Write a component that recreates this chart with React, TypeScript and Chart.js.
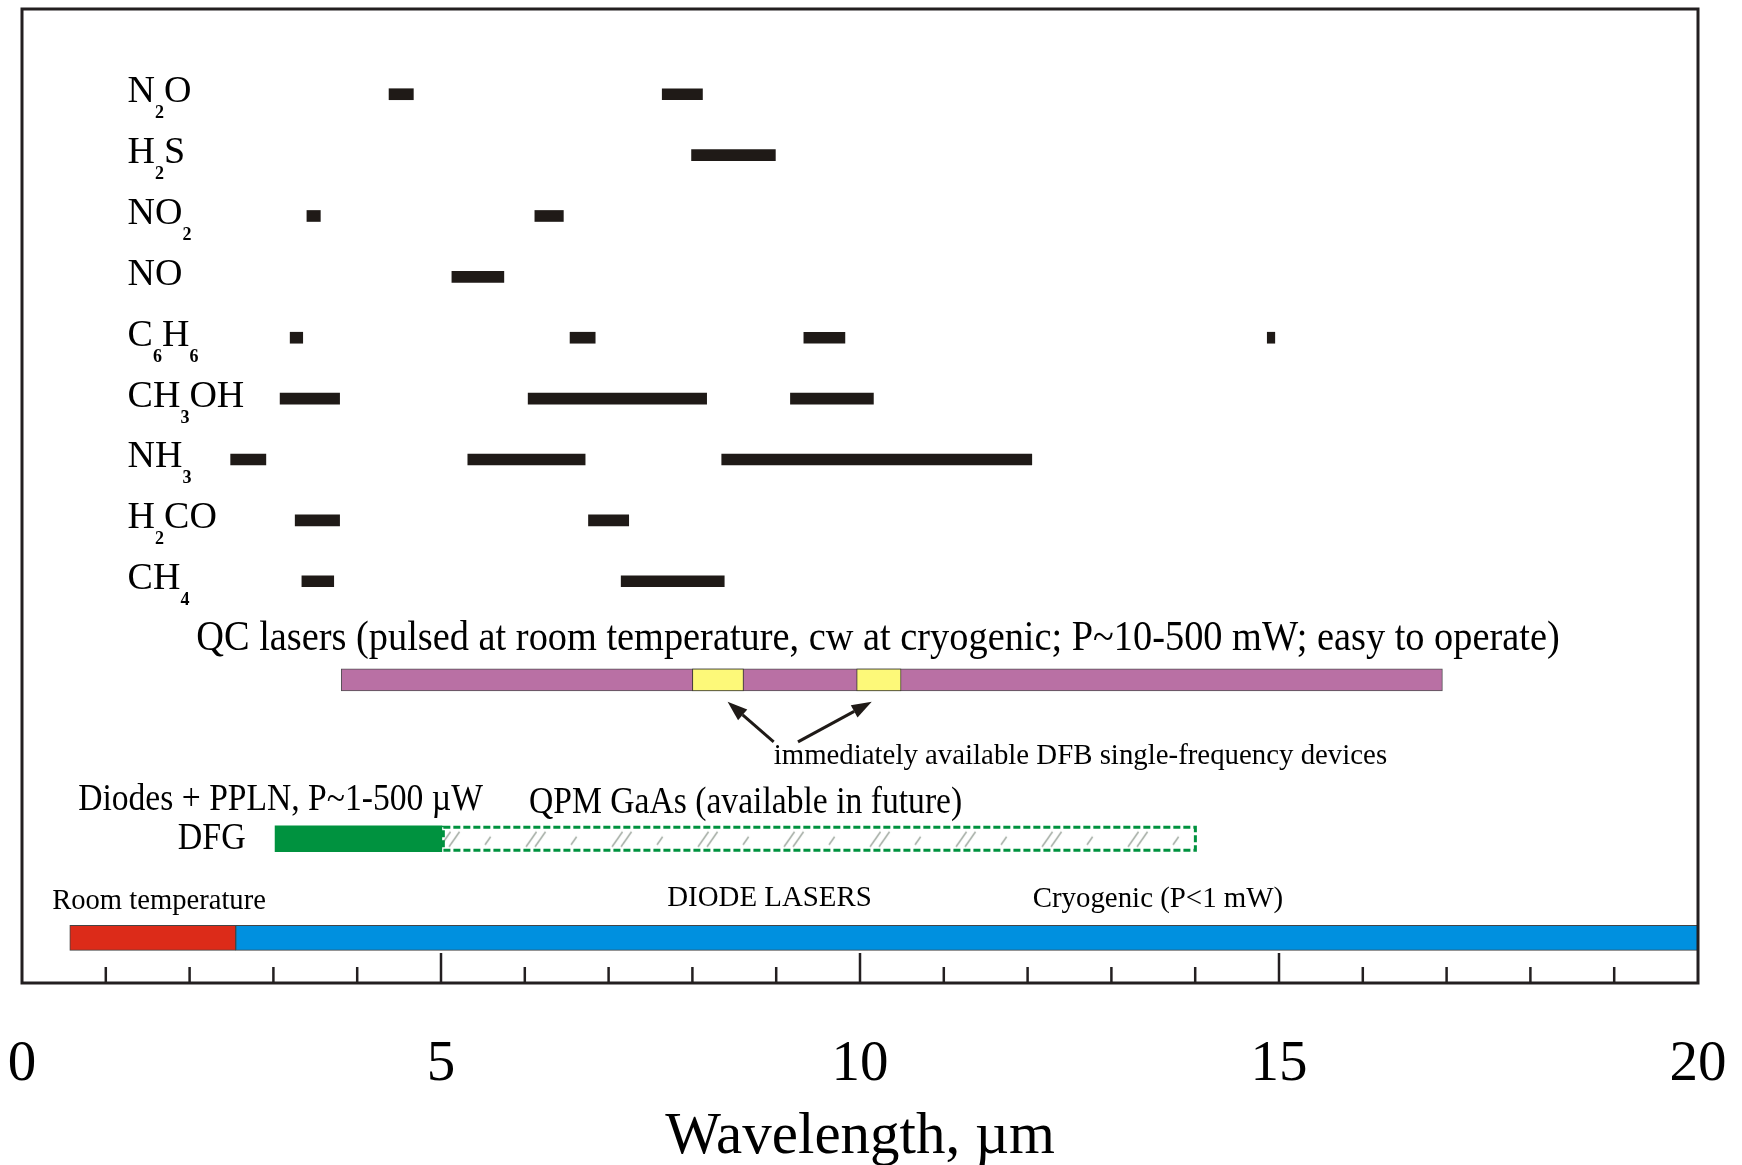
import { useEffect, useRef } from 'react';
import { Chart, registerables } from 'chart.js';

Chart.register(...registerables);

// ---------------- data (wavelength ranges in µm) ----------------
const molecules = ['N2O', 'H2S', 'NO2', 'NO', 'C6H6', 'CH3OH', 'NH3', 'H2CO', 'CH4'];

const n2oBands = [[4.38, 4.67], [7.64, 8.12]];
const h2sBands = [[7.99, 8.99]];
const no2Bands = [[3.40, 3.56], [6.12, 6.46]];
const noBands = [[5.13, 5.75]];
const c6h6Bands = [[3.20, 3.35], [6.54, 6.84], [9.33, 9.82], [14.86, 14.95]];
const ch3ohBands = [[3.08, 3.79], [6.04, 8.17], [9.17, 10.16]];
const nh3Bands = [[2.49, 2.91], [5.32, 6.72], [8.35, 12.05]];
const h2coBands = [[3.26, 3.79], [6.76, 7.24]];
const ch4Bands = [[3.34, 3.72], [7.15, 8.38]];
const moleculeBands = [n2oBands, h2sBands, no2Bands, noBands, c6h6Bands, ch3ohBands, nh3Bands, h2coBands, ch4Bands];

const qcLaserRange = [3.81, 16.95];
const dfbDeviceRanges = [[8.0, 8.61], [9.96, 10.49]];
const dfgPplnRange = [3.02, 5.01];
const qpmGaAsRange = [5.01, 14.02];
const roomTempRange = [0.57, 2.55];
const cryogenicRange = [2.55, 20];

const xMin = 0;
const xMax = 20;
const xLabelStep = 5;
const majorTickValues = [5, 10, 15];
const minorTickValues = [1, 2, 3, 4, 6, 7, 8, 9, 11, 12, 13, 14, 16, 17, 18, 19];

// ---------------- layout (row positions on the hidden vertical axis) ----------------
const Y_MIN = -1.4;
const Y_MAX = 14.6;
const ROW_QC = 9.62;
const ROW_DFG = 12.23;
const ROW_DIODE = 13.86;
const LABEL_X = 1.26;

const textNotes = [
  { text: 'QC lasers (pulsed at room temperature, cw at cryogenic; P~10-500 mW; easy to operate)', from: 2.08, to: 18.35, row: 9.13, size: 42 },
  { text: 'immediately available DFB single-frequency devices', from: 8.97, to: 16.29, row: 11.0, size: 30 },
  { text: 'Diodes + PPLN, P~1-500 µW', from: 0.67, to: 5.5, row: 11.76, size: 37 },
  { text: 'QPM GaAs (available in future)', from: 6.05, to: 11.22, row: 11.81, size: 37 },
  { text: 'DFG', from: 1.86, to: 2.67, row: 12.4, size: 37 },
  { text: 'Room temperature', from: 0.36, to: 2.91, row: 13.38, size: 30 },
  { text: 'DIODE LASERS', from: 7.7, to: 10.14, row: 13.33, size: 30 },
  { text: 'Cryogenic (P<1 mW)', from: 12.06, to: 15.05, row: 13.35, size: 30 },
];

const dfbArrows = [
  { from: [8.97, 10.64], to: [8.42, 9.98] },
  { from: [9.26, 10.64], to: [10.14, 9.98] },
];

const SERIF = "'Liberation Serif', 'Times New Roman', serif";
const INK = '#1f1a17';
const GREEN = '#00923f';

function makeHatch(): CanvasPattern | string {
  const c = document.createElement('canvas');
  c.width = 86;
  c.height = 26;
  const g = c.getContext('2d');
  if (!g) return '#ffffff';
  g.fillStyle = '#ffffff';
  g.fillRect(0, 0, 86, 26);
  g.strokeStyle = '#a8b0a8';
  g.lineWidth = 1.6;
  const slash = (x: number, y0: number, y1: number) => {
    g.beginPath();
    g.moveTo(x, y1);
    g.lineTo(x + (y1 - y0) * 0.7, y0);
    g.stroke();
  };
  slash(10, 6, 21);
  slash(19, 6, 21);
  slash(55, 11, 19);
  const p = g.createPattern(c, 'repeat');
  return p || '#ffffff';
}

const overlayPlugin = {
  id: 'overlay',
  beforeDatasetsDraw(chart: any) {
    const ys = chart.scales.y;
    const pat = chart.$hatch;
    if (pat && pat.setTransform) {
      const top = ys.getPixelForValue(ROW_DFG) - 13;
      pat.setTransform(new DOMMatrix().translate(0, top));
    }
  },
  afterDatasetsDraw(chart: any) {
    const ctx: CanvasRenderingContext2D = chart.ctx;
    const xs = chart.scales.x;
    const ys = chart.scales.y;
    const area = chart.chartArea;
    ctx.save();

    // dashed outline of the future QPM GaAs range
    const meta = chart.getDatasetMeta(chart.$qpmIndex);
    meta.data.forEach((el: any) => {
      const { x, y, base, height } = el.getProps(['x', 'y', 'base', 'height'], true);
      const l = Math.min(x, base);
      const r = Math.max(x, base);
      ctx.setLineDash([7, 3]);
      ctx.lineWidth = 3;
      ctx.strokeStyle = GREEN;
      ctx.strokeRect(l + 1.5, y - height / 2 + 1.5, r - l - 3, height - 3);
    });
    ctx.setLineDash([]);

    // frame
    ctx.strokeStyle = '#231f20';
    ctx.lineWidth = 3;
    ctx.strokeRect(area.left, area.top, area.right - area.left, area.bottom - area.top);

    // inward tick marks
    ctx.lineWidth = 2.5;
    const drawTick = (v: number, len: number) => {
      const px = xs.getPixelForValue(v);
      ctx.beginPath();
      ctx.moveTo(px, area.bottom);
      ctx.lineTo(px, area.bottom - len);
      ctx.stroke();
    };
    minorTickValues.forEach((v) => drawTick(v, 16));
    majorTickValues.forEach((v) => drawTick(v, 30));

    // molecule labels with subscripts
    ctx.fillStyle = '#000';
    ctx.textBaseline = 'alphabetic';
    ctx.textAlign = 'left';
    molecules.forEach((name, i) => {
      let cx = xs.getPixelForValue(LABEL_X);
      const base = ys.getPixelForValue(i) + 8;
      for (const ch of name) {
        if (/[0-9]/.test(ch)) {
          ctx.font = `bold 18px ${SERIF}`;
          ctx.fillText(ch, cx, base + 16);
        } else {
          ctx.font = `38px ${SERIF}`;
          ctx.fillText(ch, cx, base);
        }
        cx += ctx.measureText(ch).width;
      }
    });

    // text notes, fitted horizontally to their span
    textNotes.forEach((n) => {
      ctx.font = `${n.size}px ${SERIF}`;
      const l = xs.getPixelForValue(n.from);
      const r = xs.getPixelForValue(n.to);
      const w = ctx.measureText(n.text).width;
      const sx = (r - l) / w;
      ctx.save();
      ctx.translate(l, ys.getPixelForValue(n.row));
      ctx.scale(sx, 1);
      ctx.fillText(n.text, 0, 0);
      ctx.restore();
    });

    // arrows
    ctx.strokeStyle = INK;
    ctx.fillStyle = INK;
    ctx.lineWidth = 3;
    dfbArrows.forEach((a) => {
      const x0 = xs.getPixelForValue(a.from[0]);
      const y0 = ys.getPixelForValue(a.from[1]);
      const x1 = xs.getPixelForValue(a.to[0]);
      const y1 = ys.getPixelForValue(a.to[1]);
      const ang = Math.atan2(y1 - y0, x1 - x0);
      const hl = 20;
      const hw = 7;
      const bx = x1 - hl * Math.cos(ang);
      const by = y1 - hl * Math.sin(ang);
      ctx.beginPath();
      ctx.moveTo(x0, y0);
      ctx.lineTo(bx, by);
      ctx.stroke();
      ctx.beginPath();
      ctx.moveTo(x1, y1);
      ctx.lineTo(bx + hw * Math.sin(ang), by - hw * Math.cos(ang));
      ctx.lineTo(bx - hw * Math.sin(ang), by + hw * Math.cos(ang));
      ctx.closePath();
      ctx.fill();
    });

    ctx.restore();
  },
};

export default function App() {
  const canvasRef = useRef<HTMLCanvasElement | null>(null);

  useEffect(() => {
    document.body.style.margin = '0';
    const canvas = canvasRef.current;
    if (!canvas) return;
    const hatch = makeHatch();

    const moleculeData: any[] = [];
    moleculeBands.forEach((bands, row) => {
      bands.forEach((b) => moleculeData.push({ x: [b[0], b[1]], y: row }));
    });

    // earlier datasets are painted on top of later ones
    const datasets: any[] = [
      { label: 'Molecules', data: moleculeData, backgroundColor: INK, borderWidth: 0, barThickness: 11 },
      { label: 'DFB devices', data: dfbDeviceRanges.map((r) => ({ x: r, y: ROW_QC })), backgroundColor: '#fdf979', borderColor: '#3a3a30', borderWidth: 1, borderSkipped: false, barThickness: 22 },
      { label: 'QC lasers', data: [{ x: qcLaserRange, y: ROW_QC }], backgroundColor: '#b970a4', borderColor: '#555055', borderWidth: 1, borderSkipped: false, barThickness: 22 },
      { label: 'DFG PPLN', data: [{ x: dfgPplnRange, y: ROW_DFG }], backgroundColor: GREEN, borderWidth: 0, barThickness: 26 },
      { label: 'QPM GaAs', data: [{ x: qpmGaAsRange, y: ROW_DFG }], backgroundColor: hatch, borderWidth: 0, barThickness: 26 },
      { label: 'Room temperature', data: [{ x: roomTempRange, y: ROW_DIODE }], backgroundColor: '#dc2b19', borderColor: '#444', borderWidth: 1, borderSkipped: false, barThickness: 25 },
      { label: 'Cryogenic', data: [{ x: cryogenicRange, y: ROW_DIODE }], backgroundColor: '#0090df', borderColor: '#444', borderWidth: 1, borderSkipped: false, barThickness: 25 },
    ].map((d) => ({ ...d, grouped: false }));

    const chart: any = new Chart(canvas, {
      type: 'bar',
      data: { datasets },
      options: {
        animation: false,
        responsive: false,
        devicePixelRatio: 1,
        indexAxis: 'y',
        layout: { padding: { left: 22, right: 44, top: 9, bottom: 0 } },
        plugins: { legend: { display: false }, tooltip: { enabled: false } },
        scales: {
          x: {
            type: 'linear',
            position: 'bottom',
            min: xMin,
            max: xMax,
            ticks: {
              stepSize: xLabelStep,
              color: '#000',
              font: { family: SERIF, size: 57 },
              padding: 0,
              maxRotation: 0,
              autoSkip: false,
            },
            grid: {
              display: true,
              drawOnChartArea: false,
              drawTicks: true,
              tickLength: 48,
              color: 'rgba(0,0,0,0)',
            },
            border: { display: false },
            title: {
              display: true,
              text: 'Wavelength, µm',
              color: '#000',
              font: { family: SERIF, size: 59, lineHeight: 1 },
              padding: { top: 0, bottom: -2 },
            },
            afterFit: (s: any) => {
              s.height = 182;
            },
          },
          y: { type: 'linear', min: Y_MIN, max: Y_MAX, reverse: true, offset: false, display: false },
        },
      } as any,
      plugins: [overlayPlugin as any],
    });
    chart.$hatch = hatch;
    chart.$qpmIndex = 4;
    chart.update();

    return () => chart.destroy();
  }, []);

  return <canvas ref={canvasRef} width={1742} height={1165} style={{ display: 'block' }} />;
}
